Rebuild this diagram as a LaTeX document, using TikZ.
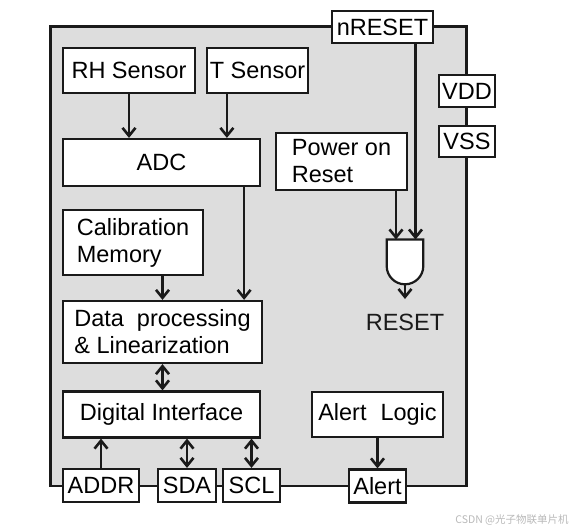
\documentclass[tikz,border=0pt]{standalone}
\usepackage{fontspec}
\setmainfont{Liberation Sans}
\newfontfamily\cjkfont{Noto Sans CJK SC}
\usetikzlibrary{arrows.meta}
\definecolor{chipgray}{HTML}{DDDDDD}
\definecolor{ink}{HTML}{1A1A1A}
\tikzset{blk/.style={draw=ink,fill=white,line width=2.2pt,inner sep=0pt,align=left,font=\fontsize{23.5}{27}\selectfont}, pin/.style={blk,minimum height=33pt}, flow/.style={-{Straight Barb[length=8pt,width=13pt]},line width=2.6pt,draw=ink}, dflow/.style={flow,{Straight Barb[length=8pt,width=13pt]}-{Straight Barb[length=8pt,width=13pt]}}}
\begin{document}
\begin{tikzpicture}[x=1pt,y=-1pt]
\useasboundingbox (0,0) rectangle (574,531);
\draw[draw=ink,fill=chipgray,line width=2.4pt] (50.5,26.5) rectangle (466.5,486);
% blocks inside the chip
\node[blk,minimum width=132pt,minimum height=45pt] (rh) at (129,70.5) {RH Sensor};
\node[blk,minimum width=101pt,minimum height=45pt] (tsen) at (257.5,70.5) {T Sensor};
\node[blk,minimum width=197pt,minimum height=47pt] (adc) at (161.5,162.5) {ADC};
\node[blk,minimum width=131pt,minimum height=57pt] (por) at (341.5,161.5) {Power on\\Reset};
\node[blk,minimum width=140pt,minimum height=65pt] (calib) at (133,242.5) {Calibration\\Memory};
\node[blk,minimum width=199pt,minimum height=62pt] (data) at (162.5,332) {Data\hspace{13pt}processing\\\& Linearization};
\node[blk,minimum width=197pt,minimum height=46pt] (di) at (161.5,414.5) {Digital Interface};
\node[blk,minimum width=131pt,minimum height=45pt] (alog) at (377.5,414.5) {Alert\hspace{14pt}Logic};
% pins
\node[pin,minimum width=101pt,minimum height=32pt] (nrst) at (382.5,27) {nRESET};
\node[pin,minimum width=56pt,minimum height=32pt] (vdd) at (467,91) {VDD};
\node[pin,minimum width=56pt,minimum height=31pt] (vss) at (467,141.5) {VSS};
\node[pin,minimum width=76pt] (addr) at (101,485.5) {ADDR};
\node[pin,minimum width=58pt] (sda) at (187,485.5) {SDA};
\node[pin,minimum width=57pt] (scl) at (251.5,485.5) {SCL};
\node[pin,minimum width=57pt] (alert) at (377.5,486) {Alert};
% reset gate
\coordinate (gin1) at (396,239.5); \coordinate (gin2) at (415.5,239.5);
\coordinate (gout) at (405,284.3); \coordinate (gend) at (405,299);
\draw[draw=ink,fill=white,line width=2.2pt] (386.7,239.5) -- (423.3,239.5) -- (423.3,266) arc[start angle=0,end angle=180,radius=18.3] -- cycle;
\node[font=\fontsize{23.5}{27}\selectfont,text=ink] (rst) at (405,322) {RESET};
% connections
\draw[flow] (rh.south)--(rh.south|-adc.north); \draw[flow] ([xshift=21pt]tsen.south west)--([xshift=21pt]tsen.south west|-adc.north);
\draw[flow] ([xshift=-17pt]adc.south east)--([xshift=-17pt]adc.south east|-data.north); \draw[flow] (calib.south-|data.north)--(data.north);
\draw[dflow] (data.south)--(data.south|-di.north);
\draw[flow] (addr.north)--(addr.north|-di.south); \draw[dflow] (sda.north)--(sda.north|-di.south); \draw[dflow] (scl.north)--(scl.north|-di.south);
\draw[flow] (alog.south)--(alert.north);
\draw[flow] (por.south-|gin1)--(gin1); \draw[flow] (nrst.south-|gin2)--(gin2); \draw[flow] (gout)--(gend);
\node[text=gray!55,font=\cjkfont\fontsize{10.5}{12}\selectfont] (wm) at (512,520) {CSDN @光子物联单片机};
\end{tikzpicture}
\end{document}
